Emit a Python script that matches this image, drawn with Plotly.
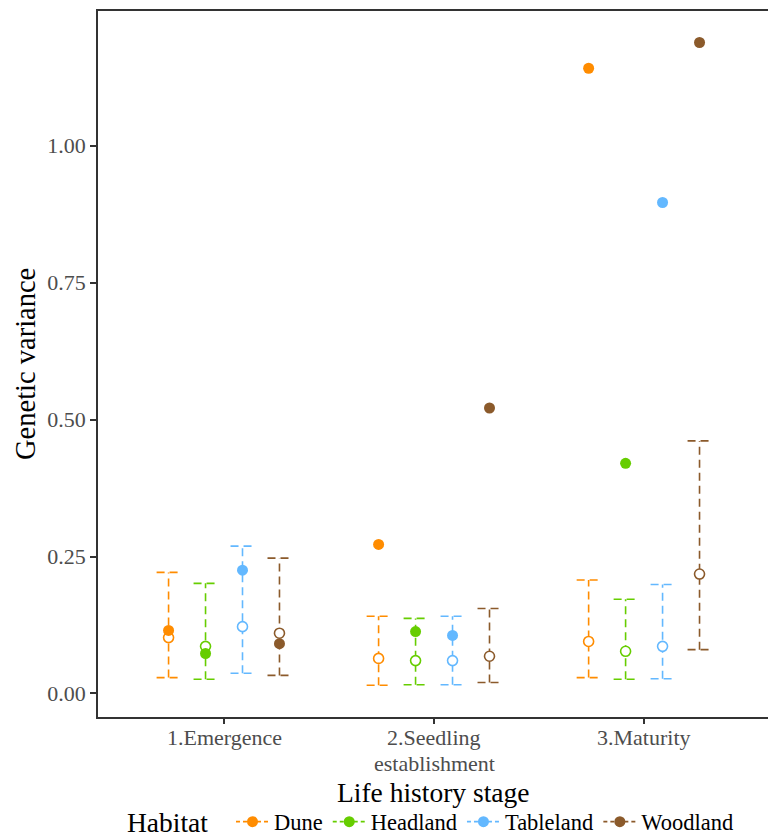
import plotly.graph_objects as go

stages = ["1.Emergence", "2.Seedling\nestablishment", "3.Maturity"]
habitats = ["Dune", "Headland", "Tableland", "Woodland"]
colors = ["#FF8C00", "#66CD00", "#63B8FF", "#8B5A2B"]

# observed (filled) genetic variance per habitat, per stage
observed = {
    "Dune":      [0.115, 0.272, 1.141],
    "Headland":  [0.073, 0.113, 0.420],
    "Tableland": [0.225, 0.106, 0.896],
    "Woodland":  [0.091, 0.521, 1.188],
}
# null (open) mean and interval per habitat, per stage
null_mean = {
    "Dune":      [0.102, 0.064, 0.095],
    "Headland":  [0.086, 0.060, 0.077],
    "Tableland": [0.122, 0.060, 0.086],
    "Woodland":  [0.110, 0.068, 0.218],
}
null_low = {
    "Dune":      [0.029, 0.015, 0.029],
    "Headland":  [0.026, 0.016, 0.026],
    "Tableland": [0.037, 0.016, 0.027],
    "Woodland":  [0.033, 0.020, 0.080],
}
null_high = {
    "Dune":      [0.221, 0.141, 0.207],
    "Headland":  [0.201, 0.137, 0.172],
    "Tableland": [0.269, 0.141, 0.199],
    "Woodland":  [0.247, 0.155, 0.461],
}

dodge = [-0.264, -0.088, 0.088, 0.264]
cap_half = 0.057
FONT = "Liberation Serif"

fig = go.Figure()

for h, hab in enumerate(habitats):
    col = colors[h]
    xs = [i + 1 + dodge[h] for i in range(len(stages))]
    # error bars (dashed) drawn as line segments
    ex, ey = [], []
    for i, x in enumerate(xs):
        lo, hi = null_low[hab][i], null_high[hab][i]
        ex += [x, x, None, x - cap_half, x + cap_half, None, x - cap_half, x + cap_half, None]
        ey += [lo, hi, None, hi, hi, None, lo, lo, None]
    fig.add_trace(go.Scatter(x=ex, y=ey, mode="lines",
                             line=dict(color=col, width=1.6, dash="8px,5px"),
                             showlegend=False, hoverinfo="skip"))
    # open null means
    fig.add_trace(go.Scatter(x=xs, y=null_mean[hab], mode="markers",
                             marker=dict(symbol="circle", size=10, color="white",
                                         line=dict(color=col, width=1.6)),
                             showlegend=False))
    # filled observed
    fig.add_trace(go.Scatter(x=xs, y=observed[hab], mode="markers",
                             marker=dict(symbol="circle", size=11, color=col,
                                         line=dict(width=0)),
                             showlegend=False))
    # legend entry
    fig.add_trace(go.Scatter(x=[None], y=[None], mode="lines+markers", name=hab,
                             line=dict(color=col, width=1.6, dash="4px,3px"),
                             marker=dict(symbol="circle", size=11, color=col)))

# category labels under the x axis (placed on the axis' own category positions)
line_y = [(717 - 737) / 706, (717 - 763) / 706]
tick_annotations = []
for i, lab in enumerate(stages):
    for j, line in enumerate(lab.split("\n")):
        tick_annotations.append(
            dict(text=line, xref="x", yref="paper", x=i + 1, y=line_y[j],
                 xanchor="center", yanchor="middle", showarrow=False, borderpad=0,
                 font=dict(family=FONT, size=22, color="#4D4D4D")))

legend_y = (717 - 822) / 706

fig.update_layout(
    width=768, height=838,
    margin=dict(l=98, r=0, t=11, b=121, autoexpand=False),
    plot_bgcolor="white", paper_bgcolor="white",
    font=dict(family=FONT, color="#000000"),
    xaxis=dict(
        range=[0.4, 3.59], tickmode="array", tickvals=[1, 2, 3],
        showticklabels=False,
        showline=True, linecolor="#333333", linewidth=1.5, mirror=True,
        ticks="outside", ticklen=5, tickcolor="#333333", tickwidth=1.5,
        showgrid=False, zeroline=False, automargin=False,
    ),
    yaxis=dict(
        range=[-0.0429, 1.2455], tickvals=[0, 0.25, 0.5, 0.75, 1.0],
        ticktext=["0.00", "0.25", "0.50", "0.75", "1.00"],
        showline=True, linecolor="#333333", linewidth=1.5,
        ticks="outside", ticklen=6, tickcolor="#333333", tickwidth=1.5,
        showgrid=False, zeroline=False, automargin=False,
        tickfont=dict(family=FONT, size=22, color="#4D4D4D"),
    ),
    legend=dict(
        orientation="h", x=0.5776, xanchor="center", y=legend_y, yanchor="middle",
        font=dict(family=FONT, size=22.5), itemwidth=33, tracegroupgap=0,
    ),
    annotations=tick_annotations + [
        dict(text="Life history stage", xref="paper", yref="paper",
             x=0.5, y=(717 - 793) / 706, xanchor="center", yanchor="middle", showarrow=False,
             borderpad=0, font=dict(family=FONT, size=27.5, color="#000000")),
        dict(text="Genetic variance", xref="paper", yref="paper",
             x=(25 - 98) / 670, y=0.5, xanchor="center", yanchor="middle", showarrow=False,
             textangle=-90, font=dict(family=FONT, size=28.5, color="#000000")),
        dict(text="Habitat", xref="paper", yref="paper",
             x=0.103, y=legend_y, xanchor="center", yanchor="middle", showarrow=False,
             borderpad=0, font=dict(family=FONT, size=27.5, color="#000000")),
    ],
)

fig.write_html("out.html")
